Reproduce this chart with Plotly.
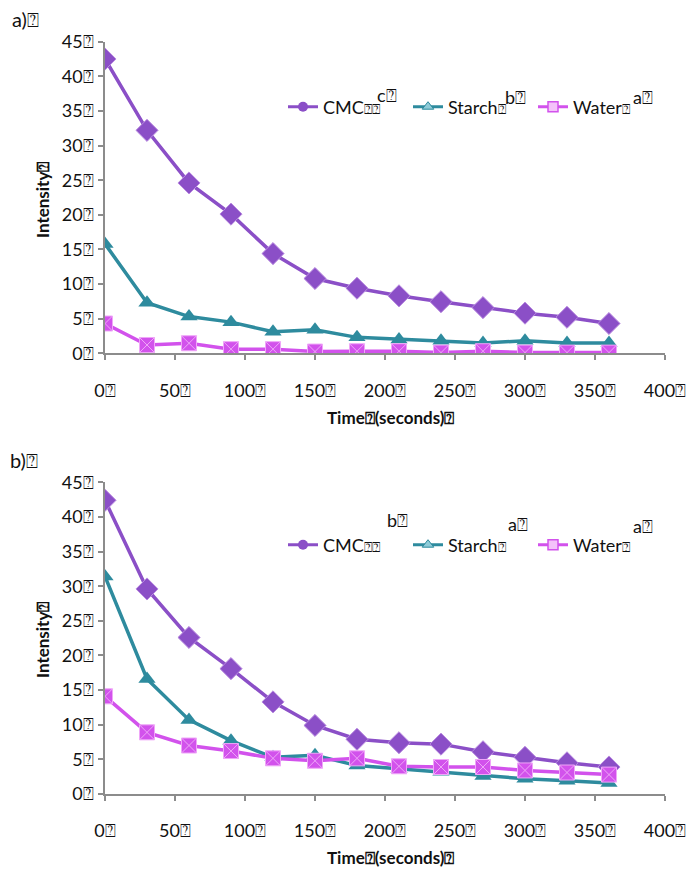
import plotly.graph_objects as go

Q = "\u2370"
time_s = [0, 30, 60, 90, 120, 150, 180, 210, 240, 270, 300, 330, 360]

cmc_a = [42.5, 32.2, 24.6, 20.1, 14.4, 10.8, 9.4, 8.3, 7.45, 6.6, 5.8, 5.2, 4.3]
starch_a = [15.8, 7.3, 5.3, 4.5, 3.1, 3.4, 2.3, 2.0, 1.8, 1.5, 1.8, 1.5, 1.5]
water_a = [4.3, 1.2, 1.45, 0.6, 0.6, 0.25, 0.3, 0.3, 0.1, 0.3, 0.1, 0.1, 0.1]

cmc_b = [42.4, 29.6, 22.6, 18.1, 13.3, 9.9, 7.9, 7.4, 7.2, 6.1, 5.3, 4.5, 3.9]
starch_b = [31.4, 16.6, 10.7, 7.7, 5.3, 5.6, 4.1, 3.6, 3.2, 2.6, 2.2, 1.9, 1.6]
water_b = [14.1, 8.9, 7.0, 6.2, 5.15, 4.8, 5.15, 4.0, 3.9, 3.9, 3.4, 3.1, 2.8]

y_ticks = [0, 5, 10, 15, 20, 25, 30, 35, 40, 45]
x_ticks = [0, 50, 100, 150, 200, 250, 300, 350, 400]
y_ticktext = [f"{v}{Q}" for v in y_ticks]
x_ticktext = [f"{v}{Q}" for v in x_ticks]

series_names = ["CMC", "Starch", "Water"]
series_tail = [Q + Q, Q, Q]
sup_a = ["c" + Q, "b" + Q, "a" + Q]
sup_b = ["b" + Q, "a" + Q, "a" + Q]

C_CMC = "#8B4FC7"
C_ST = "#2E8B9E"
C_WA = "#D252EC"

FONT = "Lato"
OFF = 8  # page body margin
W, H = 697 - 2 * OFF, 876 - 2 * OFF


def px(x):
    return (x - OFF) / W


def py(y):
    return 1 - (y - OFF) / H


def legend_name(i):
    return series_names[i] + "<span style='font-size:14px'>" + series_tail[i] + "</span>"


fig = go.Figure()


def add_panel(xa, ya, cmc, starch, water, legend):
    fig.add_trace(go.Scatter(x=time_s, y=cmc, mode="lines+markers", xaxis=xa, yaxis=ya,
                             line=dict(color=C_CMC, width=3.5),
                             marker=dict(symbol="diamond", size=17, color=C_CMC,
                                         line=dict(color="#B98BE0", width=1)),
                             showlegend=False))
    fig.add_trace(go.Scatter(x=time_s, y=starch, mode="lines+markers", xaxis=xa, yaxis=ya,
                             line=dict(color=C_ST, width=3.5),
                             marker=dict(symbol="triangle-up", size=15, color=C_ST),
                             showlegend=False))
    fig.add_trace(go.Scatter(x=time_s, y=water, mode="lines+markers", xaxis=xa, yaxis=ya,
                             line=dict(color=C_WA, width=3.5),
                             marker=dict(symbol="square-x", size=15, color=C_WA,
                                         line=dict(color="#EFA6F8", width=1)),
                             showlegend=False))
    # legend entries
    fig.add_trace(go.Scatter(x=[None], y=[None], mode="lines+markers", xaxis=xa, yaxis=ya,
                             name=legend_name(0), legend=legend,
                             line=dict(color=C_CMC, width=3),
                             marker=dict(symbol="circle", size=10, color=C_CMC)))
    fig.add_trace(go.Scatter(x=[None], y=[None], mode="lines+markers", xaxis=xa, yaxis=ya,
                             name=legend_name(1), legend=legend,
                             line=dict(color=C_ST, width=3),
                             marker=dict(symbol="triangle-up", size=10, color="#8FCBD8",
                                         line=dict(color=C_ST, width=1))))
    fig.add_trace(go.Scatter(x=[None], y=[None], mode="lines+markers", xaxis=xa, yaxis=ya,
                             name=legend_name(2), legend=legend,
                             line=dict(color=C_WA, width=3),
                             marker=dict(symbol="square", size=10, color="#F4C2FA",
                                         line=dict(color=C_WA, width=1.5))))


add_panel("x", "y", cmc_a, starch_a, water_a, "legend")
add_panel("x2", "y2", cmc_b, starch_b, water_b, "legend2")

xdom = [px(105), px(665)]
dom_a = [py(353.3), py(41.7)]
dom_b = [py(794), py(482.3)]

axis_common = dict(showgrid=False, zeroline=False, showline=True, linecolor="#8C8C8C",
                   linewidth=1.5, ticks="outside", ticklen=5, tickcolor="#8C8C8C",
                   tickwidth=1.5, automargin=False,
                   tickfont=dict(family=FONT, size=18, color="#111"))

xcommon = dict(axis_common, range=[0, 400], tickvals=x_ticks, ticktext=x_ticktext,
               domain=xdom, ticklabelstandoff=15)
ycommon = dict(axis_common, range=[0, 45], tickvals=y_ticks, ticktext=y_ticktext,
               ticklabelstandoff=1)

title_font = dict(family=FONT, size=17, color="#111", weight="bold")

legend_common = dict(orientation="h", xanchor="left", yanchor="middle",
                     font=dict(family=FONT, size=18, color="#111"),
                     bgcolor="rgba(0,0,0,0)", itemwidth=30, tracegroupgap=0,
                     entrywidth=80, entrywidthmode="pixels")

fig.update_layout(
    width=W, height=H,
    margin=dict(l=0, r=0, t=0, b=0),
    paper_bgcolor="white", plot_bgcolor="white",
    xaxis=dict(xcommon, anchor="y"),
    yaxis=dict(ycommon, domain=dom_a, anchor="x"),
    xaxis2=dict(xcommon, anchor="y2"),
    yaxis2=dict(ycommon, domain=dom_b, anchor="x2"),
    legend=dict(legend_common, x=px(283), y=py(107)),
    legend2=dict(legend_common, x=px(283), y=py(545)),
)

ann = []
ann.append(dict(text="a)" + Q, x=px(10), y=py(19), xref="paper", yref="paper",
                xanchor="left", yanchor="middle", showarrow=False,
                font=dict(family=FONT, size=20, color="#111")))
ann.append(dict(text="b)" + Q, x=px(8), y=py(460), xref="paper", yref="paper",
                xanchor="left", yanchor="middle", showarrow=False,
                font=dict(family=FONT, size=20, color="#111")))
for yc in [200, 640]:
    ann.append(dict(text="Intensity" + Q, x=px(42), y=py(yc), xref="paper", yref="paper",
                    textangle=-90, showarrow=False, xanchor="center", yanchor="middle",
                    font=title_font))
for yc in [418, 857]:
    ann.append(dict(text="Time" + Q + "(seconds)" + Q, x=px(390), y=py(yc), xref="paper",
                    yref="paper", showarrow=False, xanchor="center", yanchor="middle",
                    font=title_font))
sup_pos_a = [(375, 95), (503, 97), (631, 97)]
sup_pos_b = [(385, 520), (506, 524), (631, 526)]
for txt, (sx, sy) in zip(sup_a, sup_pos_a):
    ann.append(dict(text=txt, x=px(sx), y=py(sy), xref="paper", yref="paper",
                    xanchor="left", yanchor="middle", showarrow=False,
                    font=dict(family=FONT, size=18, color="#111")))
for txt, (sx, sy) in zip(sup_b, sup_pos_b):
    ann.append(dict(text=txt, x=px(sx), y=py(sy), xref="paper", yref="paper",
                    xanchor="left", yanchor="middle", showarrow=False,
                    font=dict(family=FONT, size=18, color="#111")))
fig.update_layout(annotations=ann)

fig.write_html("out.html")
